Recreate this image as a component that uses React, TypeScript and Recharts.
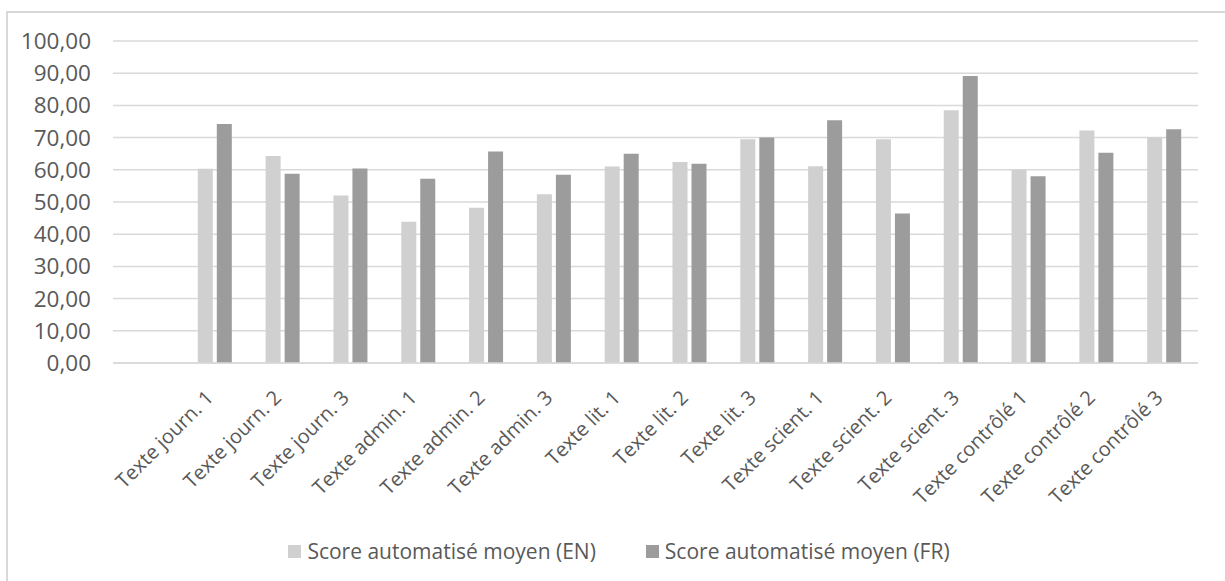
import React from "react";
import { BarChart, Bar, XAxis, YAxis, CartesianGrid, Legend } from "recharts";

const categories = [
  "",
  "Texte journ. 1",
  "Texte journ. 2",
  "Texte journ. 3",
  "Texte admin. 1",
  "Texte admin. 2",
  "Texte admin. 3",
  "Texte lit. 1",
  "Texte lit. 2",
  "Texte lit. 3",
  "Texte scient. 1",
  "Texte scient. 2",
  "Texte scient. 3",
  "Texte contrôlé 1",
  "Texte contrôlé 2",
  "Texte contrôlé 3",
];

const scoreEN: (number | null)[] = [
  null, 60.3, 64.3, 52.0, 43.9, 48.2, 52.4, 61.0, 62.4, 69.5, 61.1, 69.5, 78.5, 60.0, 72.2, 70.1,
];
const scoreFR: (number | null)[] = [
  null, 74.2, 58.8, 60.4, 57.2, 65.7, 58.5, 65.0, 61.9, 70.0, 75.4, 46.4, 89.1, 58.0, 65.3, 72.6,
];

const yTicks = [0, 10, 20, 30, 40, 50, 60, 70, 80, 90, 100];

const seriesNames = ["Score automatisé moyen (EN)", "Score automatisé moyen (FR)"];
const colors = ["#d0d0d0", "#9c9c9c"];

const data = categories.map((name, i) => ({
  name,
  en: scoreEN[i],
  fr: scoreFR[i],
}));

const FONT = "'Open Sans', sans-serif";
const TEXT_COLOR = "#595959";

const XTick = (props: any) => {
  const { x, y, payload } = props;
  const tx = x;
  const ty = y + 28;
  return (
    <text
      x={tx}
      y={ty}
      textAnchor="end"
      fill={TEXT_COLOR}
      fontSize={20}
      fontFamily={FONT}
      transform={`rotate(-45, ${tx}, ${ty})`}
    >
      {payload.value}
    </text>
  );
};

const LegendContent = () => (
  <div
    style={{
      display: "flex",
      justifyContent: "center",
      alignItems: "center",
      fontFamily: FONT,
      fontSize: 21,
      color: TEXT_COLOR,
      paddingLeft: 40,
    }}
  >
    {seriesNames.map((n, i) => (
      <div
        key={n}
        style={{ display: "flex", alignItems: "center", marginRight: i === 0 ? 50 : 0 }}
      >
        <span
          style={{
            display: "inline-block",
            width: 13,
            height: 13,
            background: colors[i],
            marginRight: 6,
          }}
        />
        <span>{n}</span>
      </div>
    ))}
  </div>
);

export default function App() {
  return (
    <div
      style={{
        position: "absolute",
        left: 0,
        top: 0,
        width: 1225,
        height: 581,
        overflow: "hidden",
        background: "#ffffff",
      }}
    >
      <div
        style={{
          position: "absolute",
          left: 6,
          top: 11,
          width: 1400,
          height: 800,
          border: "2px solid #d9d9d9",
          boxSizing: "border-box",
        }}
      />
      <div style={{ position: "absolute", left: 0, top: 0 }}>
        <BarChart
          width={1225}
          height={581}
          data={data}
          margin={{ top: 41, right: 27, left: 0, bottom: 14 }}
          barSize={15}
          barGap={4}
        >
          <CartesianGrid vertical={false} stroke="#d9d9d9" strokeWidth={1.5} />
          <XAxis
            dataKey="name"
            interval={0}
            height={174}
            tick={<XTick />}
            tickLine={false}
            axisLine={{ stroke: "#d9d9d9", strokeWidth: 1.5 }}
          />
          <YAxis
            width={113}
            domain={[0, 100]}
            ticks={yTicks}
            tickFormatter={(v: number) => v.toFixed(2).replace(".", ",")}
            tick={{ fill: TEXT_COLOR, fontSize: 22.5, fontFamily: FONT }}
            tickLine={false}
            axisLine={false}
            tickMargin={16}
          />
          <Legend verticalAlign="bottom" height={30} content={<LegendContent />} />
          <Bar dataKey="en" name={seriesNames[0]} fill={colors[0]} isAnimationActive={false} />
          <Bar dataKey="fr" name={seriesNames[1]} fill={colors[1]} isAnimationActive={false} />
        </BarChart>
      </div>
    </div>
  );
}
